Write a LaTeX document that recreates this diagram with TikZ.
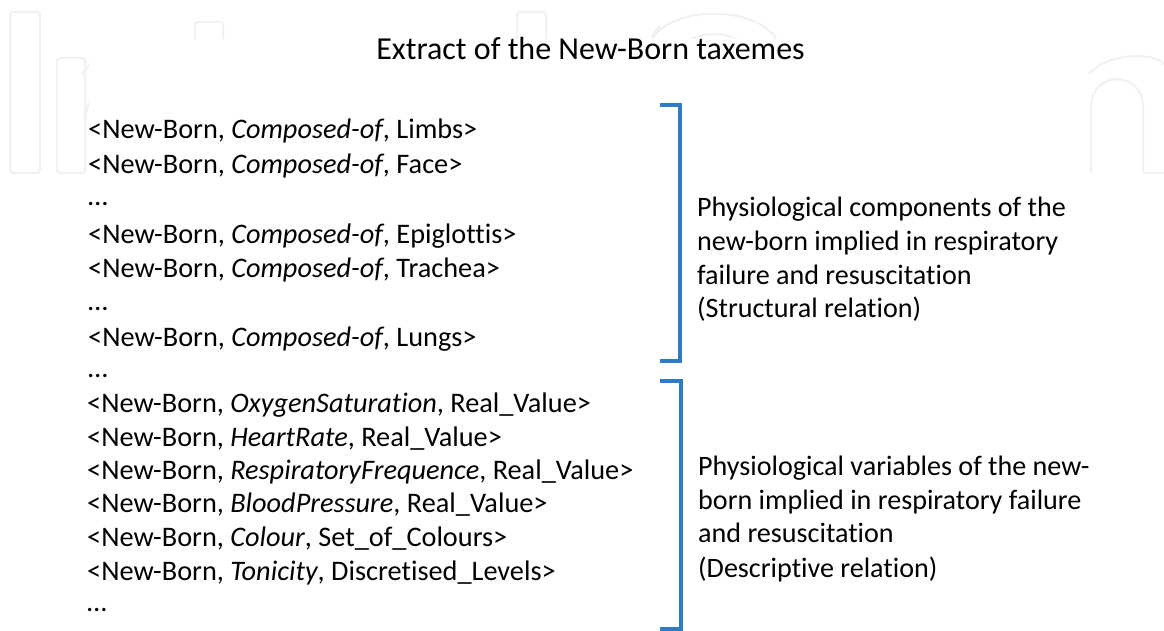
\documentclass[tikz,border=0pt]{standalone}
\usepackage{fontspec}
\setmainfont{Carlito}[Ligatures={NoCommon,TeX}]
\definecolor{brk}{RGB}{46,125,196}
\definecolor{wmc}{RGB}{240,241,241}
\begin{document}
\begin{tikzpicture}[x=1pt,y=-1pt,
  txt/.style={anchor=base west,inner sep=0pt,font=\fontsize{28.3}{33}\selectfont},
  captxt/.style={anchor=base west,inner sep=0pt,font=\fontsize{28.1}{33}\selectfont},
  ttl/.style={anchor=base,inner sep=0pt,font=\fontsize{32}{38}\selectfont},
  bracket/.style={draw=brk,line width=3.6pt,line join=miter},
  wm/.style={draw=wmc,line width=2pt,rounded corners=3pt}]
\useasboundingbox (0,0) rectangle (1164,631);
\fill[white] (0,0) rectangle (1164,631);
% faint watermark
\draw[wm] (10,12) rectangle (40,173);
\draw[wm] (57,58) rectangle (85,173);
\draw[wm,line cap=round] (82,74) -- (90,64);
\draw[wm] (85,125) .. controls (86,108) and (90,98) .. (96,90);
\draw[wm] (195,22) rectangle (223,60);
\draw[wm] (517,12) rectangle (546,60);
\draw[wm] (652,40) .. controls (670,5) and (757,5) .. (777,40);
\draw[wm] (690,40) .. controls (700,32) and (726,32) .. (736,40);
\draw[wm,line cap=round] (652,36) -- (660,26);
\draw[wm] (1089,74) .. controls (1105,55) and (1150,50) .. (1164,64);
\draw[wm] (1091,173) -- (1091,110) .. controls (1091,70) and (1143,70) .. (1143,110) -- (1143,173) -- (1164,173);
\fill[white] (89,39) rectangle (1087,631);
% title
\node[ttl] (title) at (590.5,60) {Extract of the New-Born taxemes};
% structural list
\node[txt] (a1) at (88,139) {<New-Born, \textit{Composed-of}, Limbs>};
\node[txt] (a2) at (88,173.5) {<New-Born, \textit{Composed-of}, Face>};
\node[txt] (a3) at (88,206) {…};
\node[txt] (a4) at (88,243) {<New-Born, \textit{Composed-of}, Epiglottis>};
\node[txt] (a5) at (88,277) {<New-Born, \textit{Composed-of}, Trachea>};
\node[txt] (a6) at (88,310) {…};
\node[txt] (a7) at (88,346) {<New-Born, \textit{Composed-of}, Lungs>};
\node[txt] (a8) at (88,377) {…};
% descriptive list
\node[txt] (b1) at (87,412) {<New-Born, \textit{OxygenSaturation}, Real\_Value>};
\node[txt] (b2) at (87,446) {<New-Born, \textit{HeartRate}, Real\_Value>};
\node[txt] (b3) at (87,479) {<New-Born, \textit{RespiratoryFrequence}, Real\_Value>};
\node[txt] (b4) at (87,512) {<New-Born, \textit{BloodPressure}, Real\_Value>};
\node[txt] (b5) at (87,546) {<New-Born, \textit{Colour}, Set\_of\_Colours>};
\node[txt] (b6) at (87,580) {<New-Born, \textit{Tonicity}, Discretised\_Levels>};
\node[txt] (b7) at (87,611) {…};
% brackets
\coordinate (s1) at (660,105);
\coordinate (s2) at (680,105);
\coordinate (s3) at (680,361);
\coordinate (s4) at (660,361);
\draw[bracket] (s1) -- (s2) -- (s3) -- (s4);
\coordinate (d1) at (660,381);
\coordinate (d2) at (681,381);
\coordinate (d3) at (681,629);
\coordinate (d4) at (660,629);
\draw[bracket] (d1) -- (d2) -- (d3) -- (d4);
% right captions
\node[captxt] (c1) at (697,216) {Physiological components of the};
\node[captxt] (c2) at (697,250) {new-born implied in respiratory};
\node[captxt] (c3) at (697,284) {failure and resuscitation};
\node[captxt] (c4) at (697,317) {(Structural relation)};
\node[captxt] (e1) at (698,475) {Physiological variables of the new-};
\node[captxt] (e2) at (698,509) {born implied in respiratory failure};
\node[captxt] (e3) at (698,542) {and resuscitation};
\node[captxt] (e4) at (698,577) {(Descriptive relation)};
\end{tikzpicture}
\end{document}
